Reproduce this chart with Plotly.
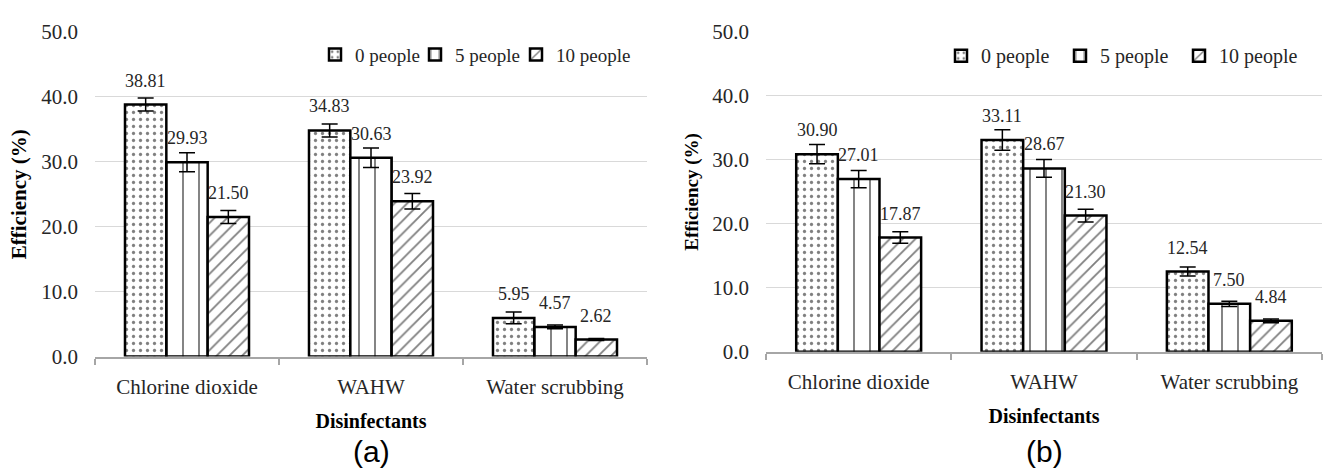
import plotly.graph_objects as go

categories = ["Chlorine dioxide", "WAHW", "Water scrubbing"]
series_names = ["0 people", "5 people", "10 people"]

# Panel (a)
a_0 = [38.81, 34.83, 5.95]
a_5 = [29.93, 30.63, 4.57]
a_10 = [21.50, 23.92, 2.62]
a_err_0 = [1.0, 1.0, 0.9]
a_err_5 = [1.45, 1.5, 0.3]
a_err_10 = [1.0, 1.2, 0.15]

# Panel (b)
b_0 = [30.90, 33.11, 12.54]
b_5 = [27.01, 28.67, 7.50]
b_10 = [17.87, 21.30, 4.84]
b_err_0 = [1.5, 1.6, 0.7]
b_err_5 = [1.35, 1.4, 0.4]
b_err_10 = [0.9, 1.0, 0.3]

y_ticks = [0, 10, 20, 30, 40, 50]
panel_labels = ["(a)", "(b)"]

SERIF = "Liberation Serif"
W, H = 1325, 473
BARGAP = 0.326
shapes = [".", "|", "/"]
pat_size = [7, 16, 9]
pat_sol = [0.17, 0.12, 0.2]

# one legend box per entry so entries can be spaced like the original
panels = [
    dict(vals=[a_0, a_5, a_10], errs=[a_err_0, a_err_5, a_err_10], xa="x", ya="y",
         legs=["legend", "legend3", "legend5"], leg_x=[315, 415, 516], leg_y=45, leg_font=19),
    dict(vals=[b_0, b_5, b_10], errs=[b_err_0, b_err_5, b_err_10], xa="x2", ya="y2",
         legs=["legend2", "legend4", "legend6"], leg_x=[941, 1060, 1179], leg_y=46, leg_font=20),
]

fig = go.Figure()
annotations = []
for p, pan in enumerate(panels):
    for j, (vals, errs) in enumerate(zip(pan["vals"], pan["errs"])):
        fig.add_trace(go.Bar(
            x=categories, y=vals, name=series_names[j],
            xaxis=pan["xa"], yaxis=pan["ya"], legend=pan["legs"][j],
            offsetgroup=str(j),
            marker=dict(color="white", line=dict(color="black", width=2.5),
                        pattern=dict(shape=shapes[j], fgcolor="black", bgcolor="white",
                                     size=pat_size[j], solidity=pat_sol[j], fillmode="overlay")),
            error_y=dict(type="data", array=errs, visible=True, color="black", thickness=1.5, width=8),
            hoverinfo="skip",
        ))
        w = (1 - BARGAP) / 3
        for i, v in enumerate(vals):
            annotations.append(dict(
                x=i + (j - 1) * w, y=v, xref=pan["xa"], yref=pan["ya"],
                text=f"{v:.2f}", showarrow=False, yanchor="bottom", yshift=12,
                font=dict(family=SERIF, size=18, color="#262626"),
            ))

xdom = [[95 / W, 647 / W], [766 / W, 1322 / W]]
ydom = [[(H - 363) / H, (H - 21) / H], [(H - 358) / H, (H - 21) / H]]

for k, lab in enumerate(panel_labels):
    annotations.append(dict(
        x=(xdom[k][0] + xdom[k][1]) / 2, y=(H - 463) / H, xref="paper", yref="paper",
        text=lab, showarrow=False, xanchor="center", yanchor="middle",
        font=dict(family="Liberation Sans", size=30, color="black"),
    ))

def xaxis(k):
    return dict(
        domain=xdom[k], anchor="y" if k == 0 else "y2",
        type="category", categoryorder="array", categoryarray=categories,
        showline=True, linecolor="#a6a6a6", linewidth=2,
        ticks="outside", tickson="boundaries", ticklen=6, tickcolor="#a6a6a6", tickwidth=1.5,
        showgrid=False, ticklabelstandoff=10,
        tickfont=dict(family=SERIF, size=21, color="#262626"),
        title=dict(text="<b>Disinfectants</b>", standoff=16,
                   font=dict(family=SERIF, size=20, color="black")),
    )

def yaxis(k):
    return dict(
        domain=ydom[k], anchor="x" if k == 0 else "x2",
        range=[0, 50], tickvals=y_ticks, tickformat=".1f",
        showgrid=True, gridcolor="#d9d9d9", gridwidth=1,
        zeroline=False, showline=False, ticks="",
        ticklabelstandoff=16,
        tickfont=dict(family=SERIF, size=21, color="#262626"),
        title=dict(text="<b>Efficiency (%)</b>", standoff=8,
                   font=dict(family=SERIF, size=21 if k == 0 else 19, color="black")),
    )

legends = {}
for pan in panels:
    for name, lx in zip(pan["legs"], pan["leg_x"]):
        legends[name] = dict(
            x=lx / W, y=(H - pan["leg_y"]) / H,
            orientation="h", xanchor="left", yanchor="middle",
            bgcolor="rgba(0,0,0,0)", itemwidth=30,
            font=dict(family=SERIF, size=pan["leg_font"], color="#262626"),
            itemclick=False, itemdoubleclick=False,
        )

fig.update_layout(
    width=W, height=H,
    margin=dict(l=0, r=0, t=0, b=0),
    paper_bgcolor="white", plot_bgcolor="white",
    barmode="group", bargap=BARGAP, bargroupgap=0,
    showlegend=True,
    xaxis=xaxis(0), yaxis=yaxis(0),
    xaxis2=xaxis(1), yaxis2=yaxis(1),
    annotations=annotations,
    **legends,
)

fig.write_html("out.html")
